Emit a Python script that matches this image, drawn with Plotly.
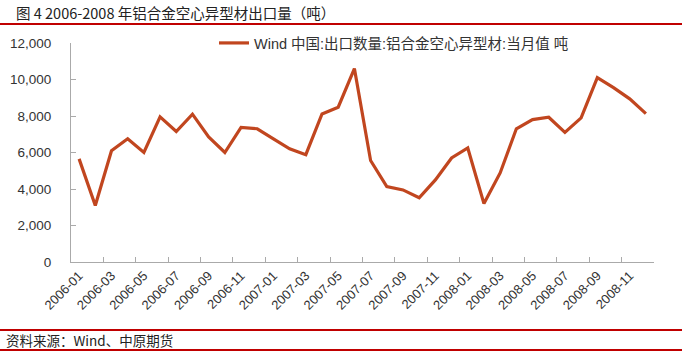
import plotly.graph_objects as go

months = [f"{y}-{m:02d}" for y in (2006, 2007, 2008) for m in range(1, 13)]
values = [5650, 3100, 6100, 6750, 6000, 7950, 7150, 8100, 6850, 6000, 7380, 7300,
          6750, 6200, 5880, 8110, 8480, 10600, 5560, 4130, 3950, 3520, 4500, 5700,
          6250, 3200, 4880, 7300, 7800, 7930, 7100, 7900, 10100, 9550, 8940, 8130]
series_name = "Wind 中国:出口数量:铝合金空心异型材:当月值 吨"
title_text = "图 4 2006-2008 年铝合金空心异型材出口量（吨）"
source_text = "资料来源：Wind、中原期货"

L, R, T, B = 71, 28, 43, 95
W, H = 682, 357
pw, ph = W - L - R, H - T - B

def px_y(py):
    return (H - B - py) / ph

def px_x(px):
    return (px - L) / pw

fig = go.Figure()
fig.add_trace(go.Scatter(x=months, y=values, mode="lines", name=series_name,
                         line=dict(color="#C1461F", width=3.2)))

red = "#C00000"
shapes = [
    dict(type="line", xref="paper", yref="paper", x0=px_x(0), x1=px_x(W),
         y0=px_y(24), y1=px_y(24), line=dict(color=red, width=2.2)),
    dict(type="line", xref="paper", yref="paper", x0=px_x(0), x1=px_x(W),
         y0=px_y(330), y1=px_y(330), line=dict(color=red, width=2.2)),
    dict(type="line", xref="paper", yref="paper", x0=px_x(0), x1=px_x(W),
         y0=px_y(350), y1=px_y(350), line=dict(color=red, width=2.2)),
]
annotations = [
    dict(text=title_text, xref="paper", yref="paper", x=px_x(14), y=px_y(13),
         xanchor="left", yanchor="middle", showarrow=False,
         font=dict(family="Noto Sans CJK SC", size=14.5, color="#222")),
    dict(text=source_text, xref="paper", yref="paper", x=px_x(4), y=px_y(340),
         xanchor="left", yanchor="middle", showarrow=False,
         font=dict(family="Noto Sans CJK SC", size=13.5, color="#222")),
]

fig.update_layout(
    width=W, height=H, margin=dict(l=L, r=R, t=T, b=B, autoexpand=False),
    paper_bgcolor="white", plot_bgcolor="white",
    shapes=shapes, annotations=annotations,
    showlegend=True,
    legend=dict(x=px_x(214), y=px_y(43), xanchor="left", yanchor="middle",
                orientation="h", bgcolor="rgba(0,0,0,0)",
                font=dict(family="Arial, Noto Sans CJK SC", size=14.5, color="#333")),
    xaxis=dict(type="category", range=[-0.5, 35.5], tickmode="linear", tick0=0, dtick=2,
               tickson="boundaries", ticks="inside", ticklen=5, tickcolor="#aaa",
               showline=True, linecolor="#aaa", linewidth=1, showgrid=False,
               tickangle=-45, automargin=False,
               tickfont=dict(family="Arial", size=13, color="#333")),
    yaxis=dict(range=[0, 12000], tickmode="linear", tick0=0, dtick=2000,
               tickformat=",d", ticks="inside", ticklen=5, tickcolor="#aaa",
               showline=True, linecolor="#aaa", linewidth=1, showgrid=False,
               zeroline=False, ticklabelstandoff=16, automargin=False,
               tickfont=dict(family="Arial", size=13.5, color="#333")),
)

fig.write_html("out.html", config={"displayModeBar": False},
               post_script="document.body.style.margin='0';document.body.style.padding='0';")
